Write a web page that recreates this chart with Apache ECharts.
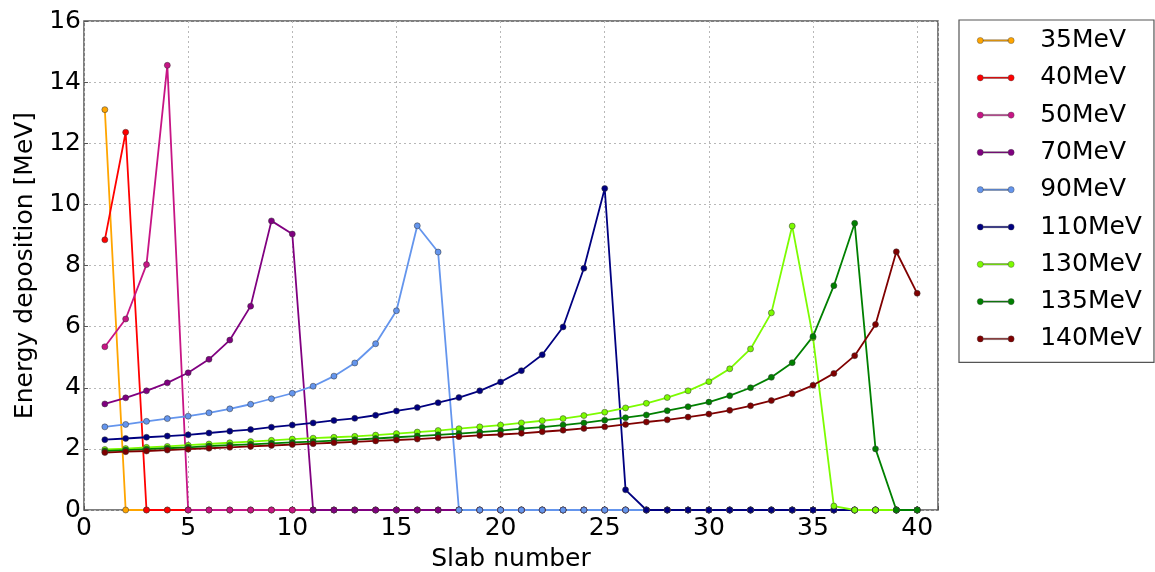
<!DOCTYPE html>
<html>
<head>
<meta charset="utf-8">
<script src="https://cdn.jsdelivr.net/npm/echarts@6/dist/echarts.min.js"></script>
<style>
  html, body { margin: 0; padding: 0; background: #fff; }
  #chart { width: 1155px; height: 572px; }
</style>
</head>
<body>
<div id="chart"></div>
<script>
// Slab indices 1..40
const slabs = Array.from({ length: 40 }, (_, i) => i + 1);

const energies = ['35MeV', '40MeV', '50MeV', '70MeV', '90MeV', '110MeV', '130MeV', '135MeV', '140MeV'];
const colors = ['#FFA500', '#FF0000', '#C71585', '#800080', '#6495ED', '#000080', '#7CFC00', '#008000', '#800000'];

// Energy deposition per slab [MeV]
const e35 = [13.1, 0, 0, 0, 0, 0, 0, 0, 0, 0, 0, 0, 0, 0, 0, 0, 0, 0, 0, 0,
  0, 0, 0, 0, 0, 0, 0, 0, 0, 0, 0, 0, 0, 0, 0, 0, 0, 0, 0, 0];
const e40 = [8.84, 12.36, 0, 0, 0, 0, 0, 0, 0, 0, 0, 0, 0, 0, 0, 0, 0, 0, 0, 0,
  0, 0, 0, 0, 0, 0, 0, 0, 0, 0, 0, 0, 0, 0, 0, 0, 0, 0, 0, 0];
const e50 = [5.34, 6.25, 8.03, 14.55, 0, 0, 0, 0, 0, 0, 0, 0, 0, 0, 0, 0, 0, 0, 0, 0,
  0, 0, 0, 0, 0, 0, 0, 0, 0, 0, 0, 0, 0, 0, 0, 0, 0, 0, 0, 0];
const e70 = [3.47, 3.67, 3.9, 4.16, 4.49, 4.93, 5.56, 6.67, 9.46, 9.03, 0, 0, 0, 0, 0, 0, 0, 0, 0, 0,
  0, 0, 0, 0, 0, 0, 0, 0, 0, 0, 0, 0, 0, 0, 0, 0, 0, 0, 0, 0];
const e90 = [2.72, 2.8, 2.9, 2.99, 3.07, 3.18, 3.31, 3.46, 3.64, 3.82, 4.05, 4.38, 4.81, 5.44, 6.52, 9.3, 8.44, 0, 0, 0,
  0, 0, 0, 0, 0, 0, 0, 0, 0, 0, 0, 0, 0, 0, 0, 0, 0, 0, 0, 0];
const e110 = [2.3, 2.34, 2.38, 2.42, 2.46, 2.52, 2.58, 2.63, 2.71, 2.78, 2.85, 2.93, 3.0, 3.1, 3.24, 3.35, 3.51, 3.68, 3.9, 4.19,
  4.56, 5.08, 5.99, 7.91, 10.52, 0.66, 0, 0, 0, 0, 0, 0, 0, 0, 0, 0, 0, 0, 0, 0];
const e130 = [1.98, 2.01, 2.05, 2.08, 2.12, 2.16, 2.2, 2.24, 2.28, 2.32, 2.35, 2.38, 2.41, 2.45, 2.5, 2.55, 2.6, 2.66, 2.72, 2.78,
  2.85, 2.92, 2.99, 3.09, 3.2, 3.34, 3.49, 3.68, 3.9, 4.2, 4.62, 5.27, 6.45, 9.29, 5.64, 0.13, 0, 0, 0, 0];
const e135 = [1.93, 1.96, 1.99, 2.02, 2.05, 2.09, 2.12, 2.15, 2.18, 2.21, 2.24, 2.27, 2.3, 2.34, 2.38, 2.42, 2.46, 2.5, 2.55, 2.6,
  2.66, 2.71, 2.78, 2.85, 2.94, 3.02, 3.11, 3.25, 3.38, 3.53, 3.74, 4.0, 4.34, 4.82, 5.68, 7.34, 9.38, 2.0, 0, 0];
const e140 = [1.88, 1.91, 1.93, 1.96, 1.99, 2.02, 2.05, 2.08, 2.11, 2.14, 2.17, 2.2, 2.23, 2.26, 2.29, 2.32, 2.36, 2.4, 2.44, 2.47,
  2.51, 2.56, 2.61, 2.67, 2.72, 2.8, 2.88, 2.95, 3.04, 3.14, 3.26, 3.41, 3.58, 3.8, 4.08, 4.47, 5.05, 6.07, 8.45, 7.09];

const seriesValues = [e35, e40, e50, e70, e90, e110, e130, e135, e140];

const xTicks = [0, 5, 10, 15, 20, 25, 30, 35, 40];
const yTicks = [0, 2, 4, 6, 8, 10, 12, 14, 16];

const FONT = 'DejaVu Sans';
const FONT_SIZE = 25;

// Legend glyph: a short line with a dot at each end
const legendIcon = 'path://M5,35A30,30,0,1,0,65,35A30,30,0,1,0,5,35Z' +
  'M65,28L305,28L305,42L65,42Z' +
  'M305,35A30,30,0,1,0,365,35A30,30,0,1,0,305,35Z';

const chart = echarts.init(document.getElementById('chart'), null, { renderer: 'canvas' });

const gridLine = { show: true, lineStyle: { color: '#b8b8b8', type: [2, 3], width: 1 } };

chart.setOption({
  backgroundColor: '#fff',
  animation: false,
  grid: {
    left: 84, top: 21, width: 854, height: 489,
    outerBoundsMode: 'none', containLabel: false,
    show: true, borderColor: '#555', borderWidth: 1.5, backgroundColor: 'transparent'
  },
  legend: {
    orient: 'vertical',
    left: 959, top: 20,
    padding: [8, 12, 11, 18],
    itemWidth: 37, itemHeight: 8, itemGap: 12.3,
    borderColor: '#555', borderWidth: 1.2, borderRadius: 0,
    icon: legendIcon,
    itemStyle: { borderColor: '#444', borderWidth: 0.4 },
    textStyle: { fontFamily: FONT, fontSize: FONT_SIZE, color: '#000', lineHeight: 25, padding: [0, 0, 0, 21] },
    data: energies
  },
  xAxis: {
    type: 'value', min: 0, max: 41, interval: 5,
    name: 'Slab number', nameLocation: 'middle', nameGap: 37,
    nameTextStyle: { fontFamily: FONT, fontSize: FONT_SIZE, color: '#000' },
    axisLine: { show: false },
    axisTick: { show: true, inside: true, length: 4, lineStyle: { color: '#555' } },
    axisLabel: {
      fontFamily: FONT, fontSize: FONT_SIZE, color: '#000', margin: 6,
      formatter: v => (xTicks.includes(v) ? String(v) : '')
    },
    splitLine: gridLine
  },
  yAxis: {
    type: 'value', min: 0, max: 16, interval: 2,
    name: 'Energy deposition [MeV]', nameLocation: 'middle', nameGap: 41,
    nameTextStyle: { fontFamily: FONT, fontSize: FONT_SIZE, color: '#000' },
    axisLine: { show: false },
    axisTick: { show: true, inside: true, length: 4, lineStyle: { color: '#555' } },
    axisLabel: {
      fontFamily: FONT, fontSize: FONT_SIZE, color: '#000', margin: 3,
      formatter: v => (yTicks.includes(v) ? String(v) : '')
    },
    splitLine: gridLine
  },
  series: energies.map((name, k) => ({
    name,
    type: 'line',
    data: slabs.map((s, i) => [s, seriesValues[k][i]]),
    symbol: 'circle',
    symbolSize: 6,
    showSymbol: true,
    clip: false,
    lineStyle: { color: colors[k], width: 1.8 },
    itemStyle: { color: colors[k], borderColor: '#333', borderWidth: 0.5 },
    emphasis: { disabled: true }
  }))
});
</script>
</body>
</html>
